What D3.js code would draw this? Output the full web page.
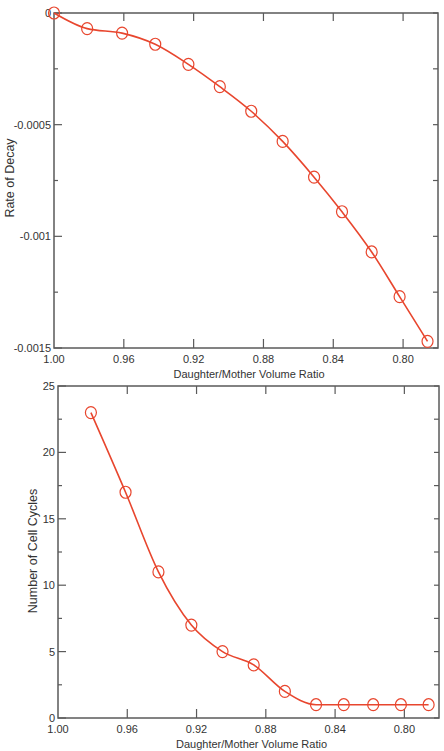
<!DOCTYPE html>
<html>
<head>
<meta charset="utf-8">
<script src="https://cdn.jsdelivr.net/npm/d3@7"></script>
<style>
  body { margin: 0; background: #fff; }
  svg { display: block; font-family: "Liberation Sans", Arial, sans-serif; }
</style>
</head>
<body>
<svg id="chart" width="444" height="751"></svg>
<script>
// data
const ratios = [1.000, 0.981, 0.961, 0.942, 0.923, 0.905, 0.887, 0.869, 0.851, 0.835, 0.818, 0.802, 0.786];
const decayRates = [0, -0.00007, -0.00009, -0.00014, -0.00023, -0.00033, -0.00044, -0.000575, -0.000735, -0.00089, -0.00107, -0.00127, -0.00147];
const cycleRatios = ratios.slice(1);
const cellCycles = [23, 17, 11, 7, 5, 4, 2, 1, 1, 1, 1, 1];
const xTicks = [1.00, 0.96, 0.92, 0.88, 0.84, 0.80];
const decayTicks = [0, -0.0005, -0.001, -0.0015];
const decayMinor = [-0.00025, -0.00075, -0.00125];
const cycleTicks = [0, 5, 10, 15, 20, 25];
const cycleMinor = [2.5, 7.5, 12.5, 17.5, 22.5];

const svg = d3.select('#chart');
const red = '#e8462e';
const axisCol = '#5a5a5a';

function drawPanel(opt) {
    const x = d3.scaleLinear().domain([1.00, 0.78]).range([opt.left, opt.right]);
    const y = d3.scaleLinear().domain(opt.yDomain).range([opt.bottom, opt.top]);
    const g = svg.append('g');

    // frame
    g.append('rect')
        .attr('x', opt.left).attr('y', opt.top)
        .attr('width', opt.right - opt.left).attr('height', opt.bottom - opt.top)
        .attr('fill', 'none').attr('stroke', axisCol).attr('stroke-width', 1.5);

    // x ticks, bottom and top, pointing inward
    xTicks.slice(1).forEach(function(t) {
        g.append('line').attr('x1', x(t)).attr('x2', x(t))
            .attr('y1', opt.bottom).attr('y2', opt.bottom - 9)
            .attr('stroke', axisCol).attr('stroke-width', 1.2);
        g.append('line').attr('x1', x(t)).attr('x2', x(t))
            .attr('y1', opt.top).attr('y2', opt.top + 8)
            .attr('stroke', axisCol).attr('stroke-width', 1.2);
    });
    xTicks.forEach(function(t) {
        g.append('text').attr('x', x(t)).attr('y', opt.bottom + 15)
            .attr('text-anchor', 'middle').attr('font-size', 11).attr('fill', '#333')
            .text(d3.format('.2f')(t));
    });

    // y ticks, left long, right short
    opt.yTicks.forEach(function(t) {
        g.append('line').attr('x1', opt.left).attr('x2', opt.left + 8)
            .attr('y1', y(t)).attr('y2', y(t))
            .attr('stroke', axisCol).attr('stroke-width', 1.2);
        g.append('line').attr('x1', opt.right).attr('x2', opt.right - 5)
            .attr('y1', y(t)).attr('y2', y(t))
            .attr('stroke', axisCol).attr('stroke-width', 1.2);
        g.append('text').attr('x', opt.left - 3).attr('y', y(t) + 4)
            .attr('text-anchor', 'end').attr('font-size', 11).attr('fill', '#333')
            .text(opt.yFormat(t));
    });
    opt.yMinor.forEach(function(t) {
        g.append('line').attr('x1', opt.left).attr('x2', opt.left + 4)
            .attr('y1', y(t)).attr('y2', y(t))
            .attr('stroke', axisCol).attr('stroke-width', 1.2);
        g.append('line').attr('x1', opt.right).attr('x2', opt.right - 5)
            .attr('y1', y(t)).attr('y2', y(t))
            .attr('stroke', axisCol).attr('stroke-width', 1.2);
    });

    // axis titles
    g.append('text')
        .attr('x', (opt.left + opt.right) / 2 + 3).attr('y', opt.bottom + 30)
        .attr('text-anchor', 'middle').attr('font-size', 11).attr('fill', '#333')
        .text('Daughter/Mother Volume Ratio');
    g.append('text')
        .attr('transform', 'translate(' + opt.yTitleX + ',' + opt.yTitleY + ') rotate(-90)')
        .attr('text-anchor', 'middle').attr('font-size', 12.5).attr('fill', '#333')
        .text(opt.yTitle);

    const pts = opt.xs.map(function(d, i) { return [d, opt.ys[i]]; });

    const line = d3.line()
        .x(function(d) { return x(d[0]); })
        .y(function(d) { return y(d[1]); })
        .curve(d3.curveMonotoneX);

    g.append('path').datum(pts)
        .attr('d', line).attr('fill', 'none')
        .attr('stroke', red).attr('stroke-width', 1.6);

    g.selectAll('.pt').data(pts).enter().append('ellipse')
        .attr('cx', function(d) { return x(d[0]); })
        .attr('cy', function(d) { return y(d[1]); })
        .attr('rx', 5.5).attr('ry', 6)
        .attr('fill', 'none').attr('stroke', red).attr('stroke-width', 1.2);
}

drawPanel({
    left: 54, right: 438, top: 13, bottom: 348,
    xs: ratios, ys: decayRates,
    yDomain: [-0.0015, 0], yTicks: decayTicks, yMinor: decayMinor,
    yFormat: function(d) { return d === 0 ? '0' : String(d); },
    yTitle: 'Rate of Decay', yTitleX: 14, yTitleY: 178
});

drawPanel({
    left: 58, right: 439, top: 386, bottom: 718,
    xs: cycleRatios, ys: cellCycles,
    yDomain: [0, 25], yTicks: cycleTicks, yMinor: cycleMinor,
    yFormat: function(d) { return String(d); },
    yTitle: 'Number of Cell Cycles', yTitleX: 37, yTitleY: 551
});
</script>
</body>
</html>
